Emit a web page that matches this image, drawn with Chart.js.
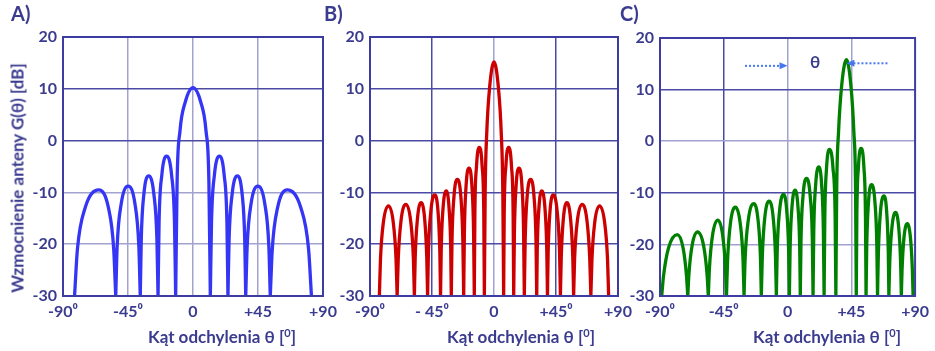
<!DOCTYPE html>
<html>
<head>
<meta charset="utf-8">
<script src="https://cdn.jsdelivr.net/npm/chart.js@4.4.0/dist/chart.umd.min.js"></script>
<style>
    body { margin: 0; background: #fff; }
    #wrap { position: relative; width: 935px; height: 351px; overflow: hidden; font-family: Lato, 'Open Sans', sans-serif; font-weight: bold; color: #3b3b8f; }
    #wrap canvas { position: absolute; top: 0; }
    .panel-tag { position: absolute; top: 3px; font-size: 20px; line-height: 1; }
    .x-title { position: absolute; top: 327px; font-size: 17px; line-height: 1; white-space: nowrap; transform: translateX(-50%); }
    .x-title sup { font-size: 11px; vertical-align: 6px; }
    .y-title { position: absolute; left: 17px; top: 178px; font-size: 17px; line-height: 1; white-space: nowrap; transform: translate(-50%, -50%) rotate(-90deg); }
</style>
</head>
<body>
<div id="wrap">
    <canvas id="chartA" width="345" height="351" style="left:0px"></canvas>
    <canvas id="chartB" width="328" height="351" style="left:310px"></canvas>
    <canvas id="chartC" width="335" height="351" style="left:600px"></canvas>
    <div class="panel-tag" style="left:11px">A)</div>
    <div class="panel-tag" style="left:324px">B)</div>
    <div class="panel-tag" style="left:620px">C)</div>
    <div class="x-title" style="left:222px">Kąt odchylenia θ [<sup>0</sup>]</div>
    <div class="x-title" style="left:521px">Kąt odchylenia θ [<sup>0</sup>]</div>
    <div class="x-title" style="left:827px">Kąt odchylenia θ [<sup>0</sup>]</div>
    <div class="y-title">Wzmocnienie anteny G(θ) [dB]</div>
</div>
<script>
// Kąt [deg] i zysk [dB], null rozdziela kolejne listki
const angleA = [
    -82, -80, -74.6, -65.2, -58.6, -54.9, -53.5, -53.5,
    -53.5, -52.5, -49.7, -44.9, -40.2, -37.5, -36.5, -36.5,
    -36.5, -35.8, -34, -30.7, -27.1, -25, -24.2, -24.2,
    -24.2, -23.5, -21.6, -18.3, -14.8, -12.8, -12, -12,
    -12, -11, -9, -5.4, 0, 5.4, 9, 11, 12, 12,
    12, 12.8, 14.8, 18.3, 21.6, 23.5, 24.2, 24.2,
    24.2, 25, 27.1, 30.7, 34, 35.8, 36.5, 36.5,
    36.5, 37.5, 40.2, 44.9, 49.7, 52.5, 53.5, 53.5,
    53.5, 54.9, 58.6, 65.2, 74.6, 80, 82
];
const gainA = [
    -30, -20.9, -12.9, -9.5, -12.9, -20.9, -30, null,
    -30, -20.4, -12.2, -8.8, -12.2, -20.4, -30, null,
    -30, -18.9, -10.3, -6.8, -10.3, -18.9, -30, null,
    -30, -15.9, -6.7, -3, -6.7, -15.9, -30, null,
    -30, -7.8, 1.9, 7.4, 10.2, 7.4, 1.9, -7.8, -30, null,
    -30, -15.9, -6.7, -3, -6.7, -15.9, -30, null,
    -30, -18.9, -10.3, -6.8, -10.3, -18.9, -30, null,
    -30, -20.4, -12.2, -8.8, -12.2, -20.4, -30, null,
    -30, -20.9, -12.9, -9.5, -12.9, -20.9, -30
];

const angleB = [
    -83.2, -82.4, -80.3, -76.6, -73.1, -71.1, -70.3, -70.3,
    -70.3, -69.5, -67.5, -63.9, -60.5, -58.5, -57.8, -57.8,
    -57.8, -57.2, -55.6, -52.9, -50.3, -48.8, -48.2, -48.2,
    -48.2, -47.6, -45.9, -43, -40.6, -39.3, -38.8, -38.8,
    -38.8, -38.3, -37, -34.6, -32.6, -31.4, -31, -31,
    -31, -30.5, -29.1, -26.6, -24, -22.6, -22, -22,
    -22, -21.5, -20.3, -18.1, -16, -14.8, -14.3, -14.3,
    -14.3, -13.9, -12.7, -10.6, -8.6, -7.4, -7, -7,
    -7, -6.4, -5.3, -3.2, 0, 3.2, 5.3, 6.4, 7, 7,
    7, 7.4, 8.6, 10.6, 12.7, 13.9, 14.3, 14.3,
    14.3, 14.8, 16, 18.1, 20.3, 21.5, 22, 22,
    22, 22.6, 24, 26.6, 29.1, 30.5, 31, 31,
    31, 31.4, 32.6, 34.6, 37, 38.3, 38.8, 38.8,
    38.8, 39.3, 40.6, 43, 45.9, 47.6, 48.2, 48.2,
    48.2, 48.8, 50.3, 52.9, 55.6, 57.2, 57.8, 57.8,
    57.8, 58.5, 60.5, 63.9, 67.5, 69.5, 70.3, 70.3,
    70.3, 71.1, 73.1, 76.6, 80.3, 82.4, 83.2
];
const gainB = [
    -30, -22.9, -15.8, -12.6, -15.8, -22.9, -30, null,
    -30, -22.8, -15.5, -12.3, -15.5, -22.8, -30, null,
    -30, -22.6, -15.2, -12, -15.2, -22.6, -30, null,
    -30, -21.6, -13.8, -10.5, -13.8, -21.6, -30, null,
    -30, -21, -13.1, -9.7, -13.1, -21, -30, null,
    -30, -19.5, -11, -7.5, -11, -19.5, -30, null,
    -30, -17.8, -8.9, -5.3, -8.9, -17.8, -30, null,
    -30, -14.5, -5, -1.3, -5, -14.5, -30, null,
    -30, -9.8, 1.2, 10.2, 15.2, 10.2, 1.2, -9.8, -30, null,
    -30, -14.5, -5, -1.3, -5, -14.5, -30, null,
    -30, -17.8, -8.9, -5.3, -8.9, -17.8, -30, null,
    -30, -19.5, -11, -7.5, -11, -19.5, -30, null,
    -30, -21, -13.1, -9.7, -13.1, -21, -30, null,
    -30, -21.6, -13.8, -10.5, -13.8, -21.6, -30, null,
    -30, -22.6, -15.2, -12, -15.2, -22.6, -30, null,
    -30, -22.8, -15.5, -12.3, -15.5, -22.8, -30, null,
    -30, -22.9, -15.8, -12.6, -15.8, -22.9, -30
];

const angleC = [
    -88.8, -87.5, -84, -77.8, -73.7, -71.3, -70.4, -70.4,
    -70.4, -69.6, -67.4, -63.5, -59.2, -56.8, -55.9, -55.9,
    -55.9, -55.1, -52.9, -49.2, -45.8, -43.8, -43.1, -43.1,
    -43.1, -42.3, -40.3, -36.8, -33.4, -31.4, -30.7, -30.7,
    -30.7, -29.9, -27.7, -23.8, -20.8, -19.1, -18.5, -18.5,
    -18.5, -17.8, -16.1, -13, -10.1, -8.5, -7.9, -7.9,
    -7.9, -7.3, -5.7, -2.8, -0.5, 0.8, 1.3, 1.3,
    1.3, 1.8, 3.1, 5.3, 7.4, 8.6, 9, 9,
    9, 9.5, 10.9, 13.4, 16, 17.5, 18, 18,
    18, 18.5, 19.8, 22, 24.1, 25.3, 25.8, 25.8,
    25.8, 26.3, 27.5, 29.6, 32.1, 33.6, 34.1, 34.1,
    34.1, 34.7, 36, 38.2, 41.6, 44.7, 46.8, 48, 48.5, 48.5,
    48.5, 48.9, 50, 51.9, 53.9, 55, 55.4, 55.4,
    55.4, 55.9, 57.1, 59.3, 61.7, 63, 63.5, 63.5,
    63.5, 64.1, 65.5, 68.1, 70, 71.1, 71.5, 71.5,
    71.5, 72.1, 73.6, 76.2, 78.5, 79.8, 80.3, 80.3,
    80.3, 80.8, 82.1, 84.5, 86.8, 88.1, 88.6
];
const gainC = [
    -30, -26.1, -20.7, -18.1, -20.7, -26.1, -30, null,
    -30, -25.8, -20.3, -17.6, -20.3, -25.8, -30, null,
    -30, -24.6, -18.2, -15.3, -18.2, -24.6, -30, null,
    -30, -23, -15.9, -12.8, -15.9, -23, -30, null,
    -30, -22.6, -15.3, -12.1, -15.3, -22.6, -30, null,
    -30, -22.3, -14.9, -11.6, -14.9, -22.3, -30, null,
    -30, -21.4, -13.7, -10.3, -13.7, -21.4, -30, null,
    -30, -20.9, -12.9, -9.5, -12.9, -20.9, -30, null,
    -30, -19.2, -10.7, -7.2, -10.7, -19.2, -30, null,
    -30, -17.6, -8.6, -5, -8.6, -17.6, -30, null,
    -30, -14.8, -5.3, -1.6, -5.3, -14.8, -30, null,
    -30, -9.2, 1.8, 10.8, 15.8, 10.8, 1.8, -9.2, -30, null,
    -30, -14.6, -5.1, -1.4, -5.1, -14.6, -30, null,
    -30, -20.1, -11.9, -8.4, -11.9, -20.1, -30, null,
    -30, -21.6, -13.9, -10.6, -13.9, -21.6, -30, null,
    -30, -23.6, -16.9, -13.8, -16.9, -23.6, -30, null,
    -30, -25, -18.9, -16, -18.9, -25, -30
];

const xLabelsA = ['-90⁰', '-45⁰', '0', '+45', '+90'];
const xLabelsB = ['-90⁰', '- 45⁰', '0', '+45⁰', '+90'];
const xLabelsC = ['-90⁰', '-45⁰', '0', '+45', '+90'];
const yLabels = ['-30', '-20', '-10', '0', '10', '20'];

const TEXT = '#3b3b8f';
const DARK = '#4b4ba6';
const LIGHT = '#a2a2d0';
const FRAME = '#3c3ca2';

// ramka wokol obszaru wykresu
const framePlugin = {
    id: 'frame',
    afterDatasetsDraw(chart) {
        const { ctx, chartArea: a } = chart;
        ctx.save();
        ctx.strokeStyle = FRAME;
        ctx.lineWidth = 2;
        ctx.strokeRect(a.left, a.top, a.right - a.left, a.bottom - a.top);
        ctx.restore();
    }
};

function dottedArrow(ctx, x0, x1, y) {
    const dir = x1 > x0 ? 1 : -1;
    ctx.save();
    ctx.strokeStyle = '#4677ee';
    ctx.fillStyle = '#4677ee';
    ctx.lineWidth = 2;
    ctx.setLineDash([2, 2]);
    ctx.beginPath();
    ctx.moveTo(x0, y);
    ctx.lineTo(x1 - dir * 7, y);
    ctx.stroke();
    ctx.setLineDash([]);
    ctx.beginPath();
    ctx.moveTo(x1, y);
    ctx.lineTo(x1 - dir * 8, y - 3.5);
    ctx.lineTo(x1 - dir * 8, y + 3.5);
    ctx.closePath();
    ctx.fill();
    ctx.restore();
}

// strzalki kata odchylenia na wykresie C
const steerPlugin = {
    id: 'steer',
    afterDatasetsDraw(chart) {
        const { ctx, scales: { x, y } } = chart;
        dottedArrow(ctx, x.getPixelForValue(-30), x.getPixelForValue(0), y.getPixelForValue(14.6));
        dottedArrow(ctx, x.getPixelForValue(70.5), x.getPixelForValue(41.5), y.getPixelForValue(15.1));
        ctx.save();
        ctx.fillStyle = TEXT;
        ctx.font = 'bold 17px Lato, sans-serif';
        ctx.textAlign = 'center';
        ctx.textBaseline = 'middle';
        ctx.fillText('θ', x.getPixelForValue(19.5), y.getPixelForValue(15.2));
        ctx.restore();
    }
};

function makeChart(id, angles, gains, color, xLabels, gridX, gridY, box, plugins) {
    const points = angles.map((a, i) => ({ x: a, y: gains[i] }));
    return new Chart(document.getElementById(id), {
        type: 'line',
        data: {
            datasets: [{
                data: points,
                borderColor: color,
                borderWidth: 3.3,
                pointRadius: 0,
                cubicInterpolationMode: 'monotone',
                spanGaps: false
            }]
        },
        options: {
            responsive: false,
            animation: false,
            layout: { padding: { left: 0, top: box.top, right: box.right, bottom: 25 } },
            plugins: { legend: { display: false }, tooltip: { enabled: false } },
            scales: {
                x: {
                    type: 'linear',
                    min: -90,
                    max: 90,
                    afterFit: (scale) => { scale.height = 30; },
                    border: { display: false },
                    grid: {
                        drawTicks: false,
                        lineWidth: 1.5,
                        color: (c) => gridX[c.index] || 'rgba(0,0,0,0)'
                    },
                    ticks: {
                        stepSize: 45,
                        padding: 6,
                        color: TEXT,
                        font: { family: 'Lato', size: 16, weight: 'bold' },
                        maxRotation: 0,
                        autoSkip: false,
                        callback: (v, i) => xLabels[i]
                    }
                },
                y: {
                    min: -30,
                    max: 20,
                    afterFit: (scale) => { scale.width = box.yWidth; },
                    border: { display: false },
                    grid: {
                        drawTicks: false,
                        lineWidth: 1.5,
                        color: (c) => gridY[c.index] || 'rgba(0,0,0,0)'
                    },
                    ticks: {
                        stepSize: 10,
                        padding: 6,
                        color: TEXT,
                        font: { family: 'Lato', size: 16, weight: 'bold' },
                        callback: (v, i) => yLabels[i]
                    }
                }
            }
        },
        plugins: [framePlugin].concat(plugins)
    });
}

makeChart('chartA', angleA, gainA, '#3535f5', xLabelsA,
    [null, LIGHT, LIGHT, LIGHT, null],
    [null, LIGHT, LIGHT, DARK, DARK, null],
    { top: 37, right: 22, yWidth: 63 }, []);

makeChart('chartB', angleB, gainB, '#cc0000', xLabelsB,
    [null, DARK, LIGHT, DARK, null],
    [null, DARK, DARK, DARK, DARK, null],
    { top: 37, right: 20, yWidth: 60 }, []);

makeChart('chartC', angleC, gainC, '#008000', xLabelsC,
    [null, DARK, LIGHT, LIGHT, null],
    [null, LIGHT, DARK, LIGHT, DARK, null],
    { top: 38, right: 15, yWidth: 60 }, [steerPlugin]);
</script>
</body>
</html>
